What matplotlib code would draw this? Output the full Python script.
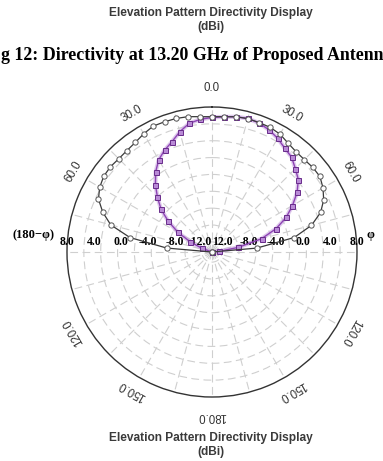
import numpy as np
import matplotlib
matplotlib.use("Agg")
import matplotlib.pyplot as plt
from matplotlib.transforms import offset_copy

# angles in degrees, 0 = top, positive = clockwise (phi side)
angles = np.arange(-90, 95, 5)

# directivity in dBi (values at the rim = 8 dBi, centre = -13.5)
black_dbi = [-13.5, -6.75, -1.15, 2.04, 3.73, 5.08, 5.72, 6.09, 6.16, 6.05,
             6.13, 6.33, 6.74, 7.10, 7.05, 7.00, 6.88, 6.64, 6.56, 6.64,
             6.86, 6.98, 6.92, 6.90, 6.67, 6.19, 5.90, 5.87, 6.01, 6.03,
             5.51, 4.77, 3.64, 1.77, -1.12, -6.83, -13.5]
purple_dbi = [-13.5, -13.5, -13.5, -13.5, -11.96, -9.96, -7.70, -5.61, -3.64, -2.07,
              -0.45, 1.05, 2.29, 3.15, 3.88, 4.96, 5.88, 6.25, 6.45, 6.62,
              6.86, 7.01, 6.86, 6.49, 5.97, 5.30, 4.86, 3.98, 3.21, 1.91,
              0.28, -1.35, -3.39, -5.89, -9.54, -12.5, -13.5]

r_min, r_max = -13.5, 8.0
r_tick_values = [8.0, 4.0, 0.0, -4.0, -8.0]
angle_ticks = [0, 30, 60, 120, 150, 180, -30, -60, -120, -150]
angle_texts = ["0.0", "30.0", "60.0", "120.0", "150.0", "180.0",
               "30.0", "60.0", "120.0", "150.0"]

fig = plt.figure(figsize=(3.83, 4.61), dpi=100)
fig.patch.set_facecolor("white")

hdr = dict(ha="center", va="center", fontsize=8.6, fontweight="bold",
           color="#3a3a3a", family="Liberation Sans")
# header / captions
fig.text(0.55, 0.972, "Elevation Pattern Directivity Display", **hdr)
fig.text(0.55, 0.942, "(dBi)", **hdr)
fig.text(0.003, 0.88, "g 12: Directivity at 13.20 GHz of Proposed Antenn", ha="left", va="center",
         fontsize=12.9, fontweight="bold", color="black", family="Liberation Serif")
fig.text(0.55, 0.050, "Elevation Pattern Directivity Display", **hdr)
fig.text(0.55, 0.020, "(dBi)", **hdr)

ax = fig.add_axes([0.1749, 0.1388, 0.7572, 0.6291], projection="polar")
ax.set_theta_zero_location("N")
ax.set_theta_direction(-1)
ax.set_rlim(r_min, r_max)
ax.set_rgrids(np.arange(-12.0, 8.0, 2.5), labels=[])
ax.set_thetagrids(np.arange(0, 360, 15), labels=[])
ax.grid(color="#cfcfcf", linestyle=(0, (7, 4)), linewidth=0.8)
ax.spines["polar"].set_color("#333333")
ax.spines["polar"].set_linewidth(1.0)

th = np.deg2rad(angles)
# purple halo + line
ax.plot(th, purple_dbi, color="#c9a6e0", linewidth=3.0, alpha=0.6, zorder=3)
ax.plot(th, purple_dbi, color="#8e44b5", linewidth=1.0, marker="s", markersize=3.6,
        markerfacecolor="#b98ad6", markeredgecolor="#6a2d8c", markeredgewidth=0.7, zorder=4)
ax.plot(th, black_dbi, color="#3a3a3a", linewidth=0.9, marker="o", markersize=3.8,
        markerfacecolor="white", markeredgecolor="#555555", markeredgewidth=0.7, zorder=5)

# angle labels around the rim
for a, t in zip(angle_ticks, angle_texts):
    rr = 10.8 if a in (0, 180) else 10.2
    ax.text(np.deg2rad(a), rr, t, rotation=-a if a != 180 else 180, rotation_mode="anchor",
            ha="center", va="center", fontsize=8.3, color="#333333", family="Liberation Sans")

# radial labels along the horizontal line
lab = dict(fontsize=8.5, fontweight="bold", family="Liberation Serif", va="bottom")
lab_tr = offset_copy(ax.transData, fig=fig, y=4, units="dots")
for v in r_tick_values:
    s = "%.1f" % v
    ax.text(np.deg2rad(-90), v, s, transform=lab_tr, ha="center", **lab)
    ax.text(np.deg2rad(90), v, s, transform=lab_tr, ha="center", **lab)
ax.text(np.deg2rad(-90), r_min, "-12.0", transform=lab_tr, ha="right", **lab)
ax.text(np.deg2rad(90), r_min, "12.0", transform=lab_tr, ha="left", **lab)

side = dict(va="center", fontsize=9, fontweight="bold", family=["Liberation Serif", "DejaVu Serif"])
fig.text(0.033, 0.49, "(180\u2212\u03c6)", ha="left", **side)
fig.text(0.968, 0.49, "\u03c6", ha="center", **side)

fig.savefig("out.png", dpi=100)
